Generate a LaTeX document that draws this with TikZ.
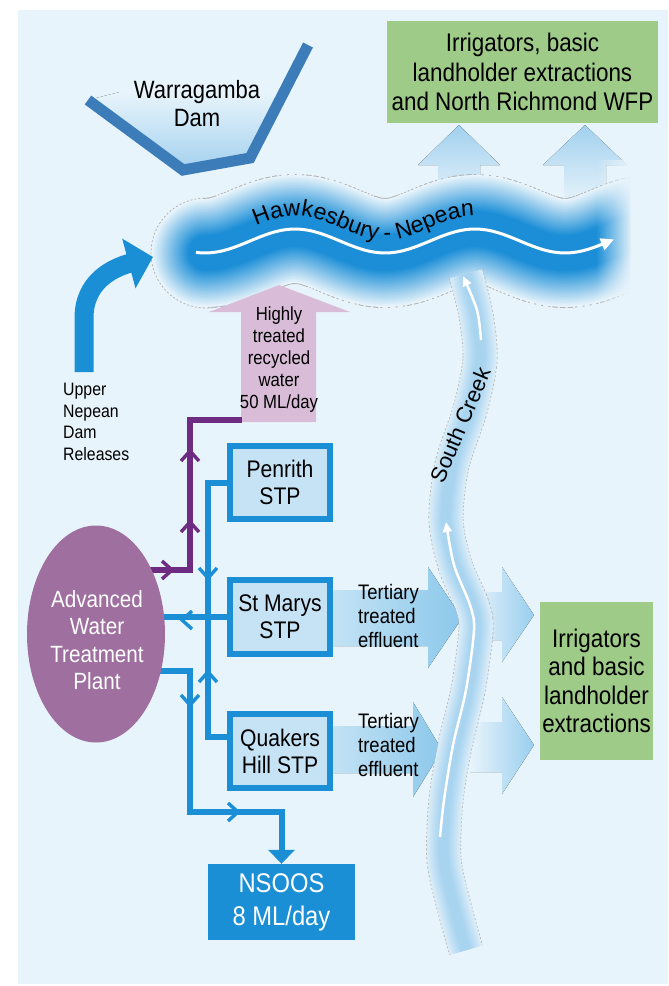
\documentclass[tikz,border=0pt]{standalone}
\usepackage{fontspec}
\setmainfont{Liberation Sans}[FakeStretch=0.88]
\newfontfamily\widefont{Liberation Sans}
\usetikzlibrary{arrows.meta,shapes.geometric,decorations.text,fadings}
\pgfdeclarelayer{bgl}
\pgfdeclarelayer{pipes}
\pgfsetlayers{bgl,pipes,main}
\definecolor{bg}{HTML}{E8F4FB}
\definecolor{pipe}{HTML}{1A8FD6}
\definecolor{purp}{HTML}{6D2B82}
\definecolor{awtpc}{HTML}{9E6F9F}
\definecolor{pinkc}{HTML}{D9BDD8}
\definecolor{grn}{HTML}{9FCB88}
\definecolor{stpfill}{HTML}{C6E3F5}
\definecolor{damc}{HTML}{3C7DB9}
\definecolor{riv}{HTML}{1B8ED7}
\definecolor{pale}{HTML}{A2D0EE}
\definecolor{arr}{HTML}{8CC8EB}
\definecolor{creekc}{HTML}{A8D4F0}
\tikzset{
  fs/.style 2 args={font=\fontsize{#1}{#2}\selectfont},
  lbl/.style={align=center, inner sep=0pt, text=black},
  stp/.style={draw=pipe, line width=6pt, fill=stpfill, minimum width=100pt, minimum height=73pt, inner sep=0pt, align=center, text=black, fs={24}{27}},
  greenbox/.style={fill=grn, inner sep=0pt, align=center, text=black},
  pipeline/.style={pipe, line width=6pt},
  purpline/.style={purp, line width=6pt},
  chev/.pic={\draw[line width=3.4pt, line join=miter] (-10,-9) -- (0,0) -- (-10,9);},
  rivp/.style={insert path={plot[domain=206:660,samples=100] (\x,{241-12*sin(2*(\x-250))})}},
  creekp/.style={insert path={plot[smooth] coordinates {(466,274) (476,315) (480,360) (470,410) (452,465) (446,520) (455,565) (472,605) (476,630) (468,690) (455,745) (446,800) (444,860) (455,910) (466,950)}}},
}
\begin{document}
\begin{tikzpicture}[x=1pt,y=-1pt]
\useasboundingbox (0,0) rectangle (669,986);
\begin{pgfonlayer}{bgl}
\fill[white] (0,0) rectangle (669,986);
\fill[bg] (18,10) rectangle (668,984);
% dam
\begin{scope}
\clip (88,100) -- (183,170) -- (250,158) -- (308,45) -- cycle;
\fill[top color=bg, bottom color=pale] (60,92) rectangle (330,172);
\end{scope}
\draw[damc, line width=11pt] (88,100) -- (183,170) -- (250,158) -- (308,45);
% upward arrows to top green box
\fill[top color=pale, bottom color=bg] (438,205) -- (438,165) -- (418,165) -- (459,125) -- (500,165) -- (480,165) -- (480,205) -- cycle;
\fill[top color=pale, bottom color=bg] (564,205) -- (564,165) -- (543,165) -- (585,125) -- (627,165) -- (606,165) -- (606,205) -- cycle;
% river
\begin{scope}
\clip (0,0) rectangle (630,986);
\draw[gray!60, line width=110pt, dash pattern=on 2pt off 2pt, rivp];
\draw[gray!60, line width=0.8pt, dash pattern=on 2pt off 2pt] (206,253) circle (55pt);
\foreach \i in {0,...,27} {
  \pgfmathsetmacro\w{108-2.9*\i}
  \pgfmathtruncatemacro\p{min(100,4*\i)}
  \draw[riv!\p!bg, line width=\w pt, line cap=round, rivp];
}
\end{scope}
\fill[bg, path fading=west] (596,160) rectangle (632,320);
\draw[white, line width=3pt, -{Triangle[length=13pt,width=12pt]}] plot[domain=196:614, samples=80] (\x,{241-12*sin(2*(\x-250))});
\path[decorate, decoration={text along path, text align=left, text={|\widefont\fontsize{23}{23}\selectfont|Hawkesbury - Nepean}}] plot[domain=256:500, samples=60] (\x,{228-12*sin(2*(\x-250))});
% tertiary arrows
\fill[left color=bg!60!arr, right color=arr] (333,590) -- (428,590) -- (428,567) -- (462,618) -- (428,668) -- (428,646) -- (333,646) -- cycle;
\fill[left color=bg, right color=arr!85!bg] (470,592) -- (502,592) -- (502,567) -- (534,615) -- (502,662) -- (502,640) -- (470,640) -- cycle;
\fill[left color=bg!60!arr, right color=arr] (333,726) -- (413,726) -- (413,702) -- (442,750) -- (413,797) -- (413,773) -- (333,773) -- cycle;
\fill[left color=bg, right color=arr!85!bg] (470,722) -- (502,722) -- (502,697) -- (534,745) -- (502,794) -- (502,772) -- (470,772) -- cycle;
% creek
\draw[gray!55, line width=35pt, dash pattern=on 2pt off 2pt, creekp];
\draw[bg, line width=33pt, creekp];
\foreach \w/\p in {33/25,30/35,27/45,24/55,21/65,18/75,15/85,12/92,9/100}
  \draw[creekc!\p!bg, line width=\w pt, creekp];
\draw[white, line width=2.5pt, -{Triangle[length=10pt,width=9pt]}] plot[smooth] coordinates {(440,837) (444,800) (453,745) (466,690) (474,630) (470,605) (454,565) (446,522)};
\draw[white, line width=2.5pt, -{Triangle[length=10pt,width=9pt]}] plot[smooth] coordinates {(481,340) (477,310) (463,276)};
% pink arrow
\fill[pinkc] (241,422) -- (241,312) -- (209,312) -- (279,285) -- (350,312) -- (316,312) -- (316,422) -- cycle;
% Upper Nepean arrow
\coordinate (un1) at (84,372);
\coordinate (un2) at (153,257);
\draw[pipe, line width=19pt, -{Triangle[length=25pt,width=50pt]}] (un1) -- (84,318) .. controls (84,282) and (112,268) .. (un2);
\end{pgfonlayer}

% nodes
\node[lbl, fs={25}{28}] (dam) at (197,104) {Warragamba\\Dam};
\node[greenbox, minimum width=271pt, minimum height=102pt, fs={25.5}{29.5}] (irr1) at (522.5,72) {Irrigators, basic\\landholder extractions\\and North Richmond WFP};
\node[lbl, align=left, anchor=west, fs={18}{21.7}] (upper) at (63,422) {Upper\\Nepean\\Dam\\Releases};
\node[lbl, fs={19}{22}] (htr) at (279,360) {Highly\\treated\\recycled\\water\\50 ML/day};
\node[stp] (pen) at (280,482.5) {Penrith\\STP};
\node[stp, minimum height=74pt] (sm) at (280,617) {St Marys\\STP};
\node[stp, minimum height=74pt] (qh) at (280,751) {Quakers\\Hill STP};
\node[fill=pipe, minimum width=147pt, minimum height=76pt, inner sep=0pt, align=center, text=white, fs={27}{33}] (ns) at (281.5,902) {NSOOS\\8 ML/day};
\node[ellipse, fill=awtpc, minimum width=138pt, minimum height=217pt, inner sep=0pt] (awtp) at (96,634) {};
\node[lbl, text=white, fs={23.5}{27.5}] (awtpt) at (97,640) {Advanced\\Water\\Treatment\\Plant};
\node[lbl, align=left, anchor=west, fs={21}{24}] (te1) at (358,616) {Tertiary\\treated\\effluent};
\node[lbl, align=left, anchor=west, fs={21}{24}] (te2) at (358,745) {Tertiary\\treated\\effluent};
\node[greenbox, minimum width=113pt, minimum height=158pt, fs={25.5}{28.5}] (irr2) at (596.5,681) {Irrigators\\and basic\\landholder\\extractions};
\node[lbl, rotate=67, font=\widefont\fontsize{22}{22}\selectfont] (sc) at (460,425) {South Creek};

% connectors
\begin{pgfonlayer}{pipes}
\coordinate (p1) at (190,570);
\coordinate (p2) at (190,420);
\coordinate (pinkbase) at (242,420);
\draw[purpline] (awtp.center |- p1) -- (p1) -- (p2) -- (pinkbase);
\coordinate (busB) at (208,737);
\draw[pipeline] (pen.west) -| (busB) -- (busB -| qh.west);
\draw[pipeline] (sm.west) -- (awtp.center |- sm.west);
\coordinate (n1) at (190,671);
\coordinate (n2) at (190,812);
\draw[pipeline, -{Triangle[length=14pt,width=26pt]}] (awtp.center |- n1) -- (n1) -- (n2) -| (ns.north);
\pic[purp] at (172,570) {chev};
\pic[purp, rotate=90] at (190,451) {chev};
\pic[purp, rotate=90] at (190,522) {chev};
\pic[pipe, rotate=-90] at (208,578) {chev};
\pic[pipe, rotate=180] at (182,620) {chev};
\pic[pipe, rotate=90] at (208,672) {chev};
\pic[pipe, rotate=-90] at (190,705) {chev};
\pic[pipe] at (238,812) {chev};
\end{pgfonlayer}
\end{tikzpicture}
\end{document}
